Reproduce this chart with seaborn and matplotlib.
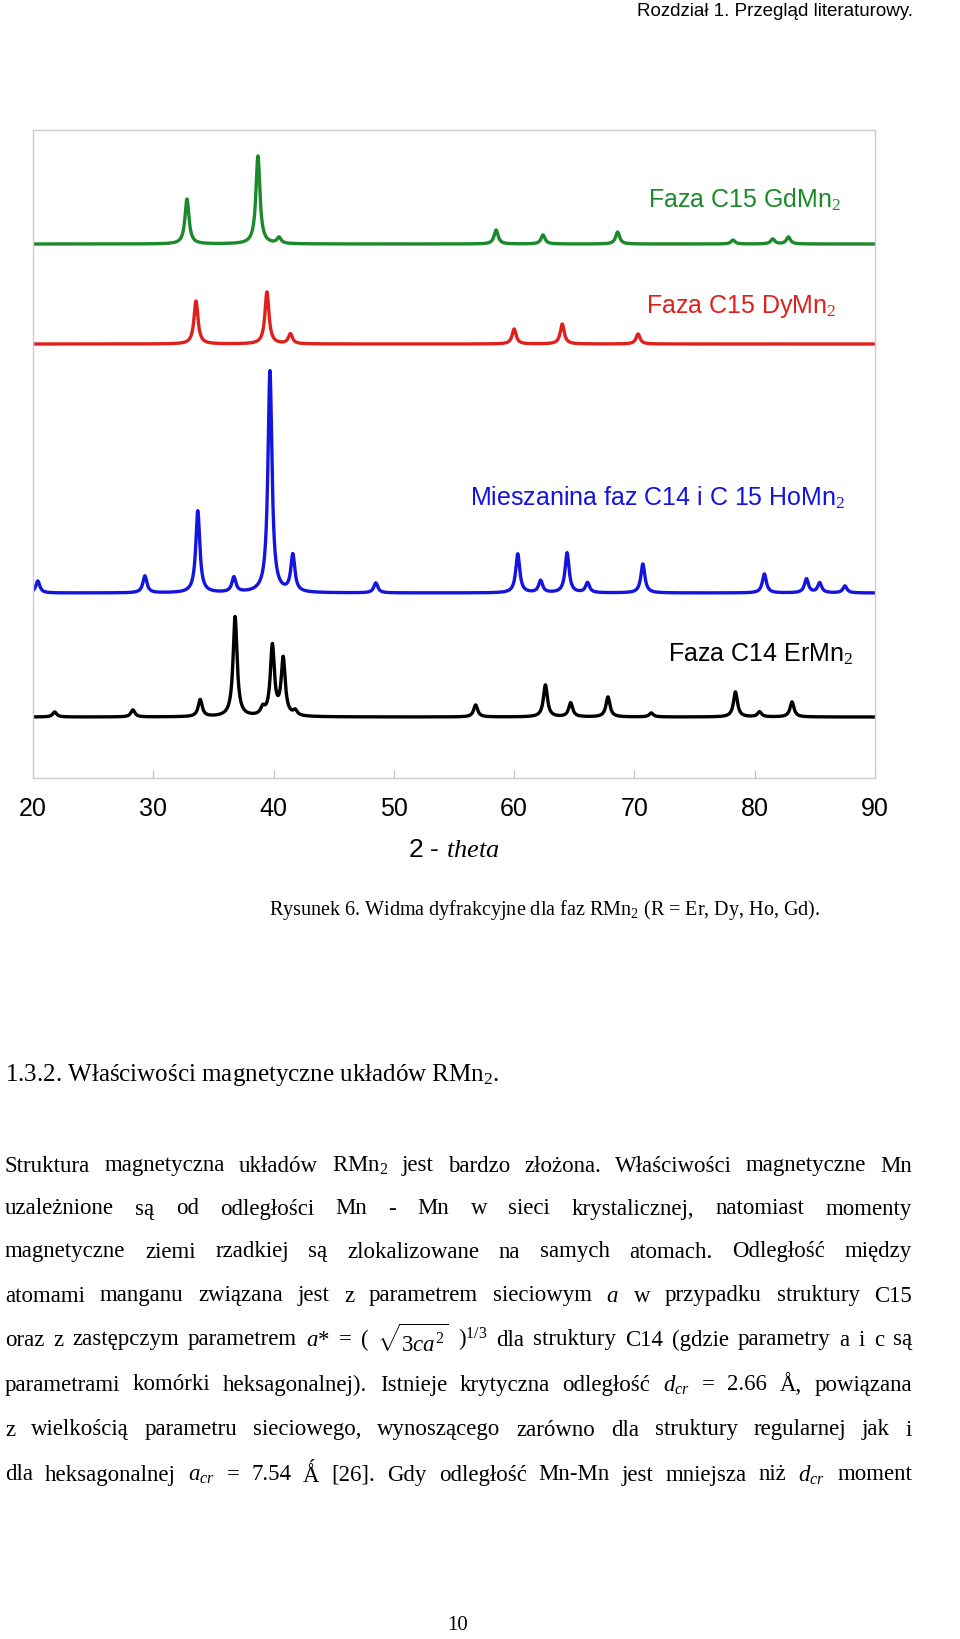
import numpy as np
import pandas as pd
import matplotlib
matplotlib.use("Agg")
import matplotlib.pyplot as plt
import seaborn as sns

plt.rcParams['mathtext.fontset'] = 'custom'
plt.rcParams['mathtext.rm'] = 'Liberation Serif'
plt.rcParams['mathtext.it'] = 'Liberation Serif:italic'

# ---- data: peak positions (2theta) and heights for each phase ----
gd_pos = [32.8, 38.7, 40.45, 58.5, 62.4, 68.6, 78.2, 81.5, 82.8]
gd_h   = [45, 88, 6, 14, 9, 12, 4, 5, 7]
dy_pos = [33.55, 39.45, 41.4, 60.0, 64.0, 70.3]
dy_h   = [43, 52, 10, 15, 20, 10]
ho_pos = [20.4, 29.3, 33.7, 36.7, 39.7, 41.6, 48.5, 60.3, 62.2, 64.4, 66.1, 70.7, 80.8, 84.3, 85.4, 87.5]
ho_h   = [12, 17, 82, 15, 222, 37, 10, 39, 12, 40, 10, 29, 19, 14, 10, 7]
er_pos = [21.8, 28.3, 33.9, 36.8, 39.1, 39.9, 40.8, 41.8, 56.8, 62.6, 64.7, 67.8, 71.4, 78.4, 80.4, 83.1]
er_h   = [5, 7, 17, 100, 7, 70, 57, 5, 12, 32, 14, 20, 4, 25, 5, 15]
offsets = [473, 373, 124, 0]   # baseline levels (arbitrary units)
names = ["GdMn2", "DyMn2", "HoMn2", "ErMn2"]
colors = ["#1a8a2a", "#e0201c", "#1414e0", "#000000"]
xticks = [20, 30, 40, 50, 60, 70, 80, 90]

x = np.linspace(20, 90, 3500)
def pattern(pos, h, w=0.2):
    y = np.zeros_like(x)
    for p, a in zip(pos, h):
        y += a / (1 + ((x - p) / w) ** 2)
    return y

frames = []
for n, pos, h, off in zip(names, [gd_pos, dy_pos, ho_pos, er_pos], [gd_h, dy_h, ho_h, er_h], offsets):
    frames.append(pd.DataFrame({"t": x, "I": pattern(pos, h) + off, "s": n}))
df = pd.concat(frames)

fig = plt.figure(figsize=(9.6, 16.39), dpi=100)
W, H = 960, 1639
ax = fig.add_axes([33 / W, 1 - 778 / H, 842 / W, 648 / H])
sns.lineplot(data=df, x="t", y="I", hue="s", palette=dict(zip(names, colors)),
             ax=ax, legend=False, linewidth=2.4)
ax.set_xlim(20, 90)
ax.set_ylim(-61, 587)
ax.set_yticks([])
ax.set_xticks(xticks)
ax.set_xticklabels([str(v) for v in xticks], fontsize=18, family="Liberation Sans")
ax.tick_params(axis="x", direction="in", length=6, color="#bbbbbb", pad=14)
ax.set_xlabel("2 - $\\it{theta}$", fontsize=19, family="Liberation Sans", labelpad=12)
ax.set_ylabel("")
for s in ax.spines.values():
    s.set_color("#cccccc"); s.set_linewidth(1)

lab = dict(fontsize=18, family="Liberation Sans", transform=fig.transFigure)
fig.text(648 / W, 1 - 200 / H, "Faza C15 GdMn$_2$", color=colors[0], va="center", **lab)
fig.text(646 / W, 1 - 306 / H, "Faza C15 DyMn$_2$", color=colors[1], va="center", **lab)
fig.text(470 / W, 1 - 498 / H, "Mieszanina faz C14 i C 15 HoMn$_2$", color=colors[2], va="center", **lab)
fig.text(668 / W, 1 - 654 / H, "Faza C14 ErMn$_2$", color=colors[3], va="center", **lab)

fig.text(913 / W, 1 - 12 / H, "Rozdział 1. Przegląd literaturowy.", ha="right", va="center",
         fontsize=13.5, family="Liberation Sans")

serif = dict(family="Liberation Serif", va="center")
fig.text(545 / W, 1 - 910 / H, "Rysunek 6. Widma dyfrakcyjne dla faz RMn$_2$ (R = Er, Dy, Ho, Gd).",
         ha="center", fontsize=14.5, **serif)
fig.text(5 / W, 1 - 1075 / H, "1.3.2. Właściwości magnetyczne układów RMn$_2$.", fontsize=18, **serif)
fig.text(458 / W, 1 - 1625 / H, "10", ha="center", fontsize=15, **serif)

lines = [
    (1166, "Struktura magnetyczna układów RMn$_2$ jest bardzo złożona. Właściwości magnetyczne Mn"),
    (1209, "uzależnione są od odległości Mn - Mn w sieci krystalicznej, natomiast momenty"),
    (1252, "magnetyczne ziemi rzadkiej są zlokalizowane na samych atomach. Odległość między"),
    (1296, "atomami manganu związana jest z parametrem sieciowym $a$ w przypadku struktury C15"),
    (1340, "oraz z zastępczym parametrem $a$* = ( $\\sqrt{3ca^2}$ )$^{1/3}$ dla struktury C14 (gdzie parametry a i c są"),
    (1385, "parametrami komórki heksagonalnej). Istnieje krytyczna odległość $d_{cr}$ = 2.66 Å, powiązana"),
    (1430, "z wielkością parametru sieciowego, wynoszącego zarówno dla struktury regularnej jak i"),
    (1475, "dla heksagonalnej $a_{cr}$ = 7.54 Ǻ [26]. Gdy odległość Mn-Mn jest mniejsza niż $d_{cr}$ moment"),
]
fig.canvas.draw()
r = fig.canvas.get_renderer()
x0, x1 = 5, 912
for yy, txt in lines:
    words = txt.split(" ")
    ts = [fig.text(0, 1 - yy / H, w, fontsize=16.5, **serif) for w in words]
    ws = [t.get_window_extent(r).width for t in ts]
    gap = max((x1 - x0 - sum(ws)) / (len(words) - 1), 3)
    cx = x0
    for t, w in zip(ts, ws):
        t.set_x(cx / W)
        cx += w + gap

fig.savefig("out.png", dpi=100)
